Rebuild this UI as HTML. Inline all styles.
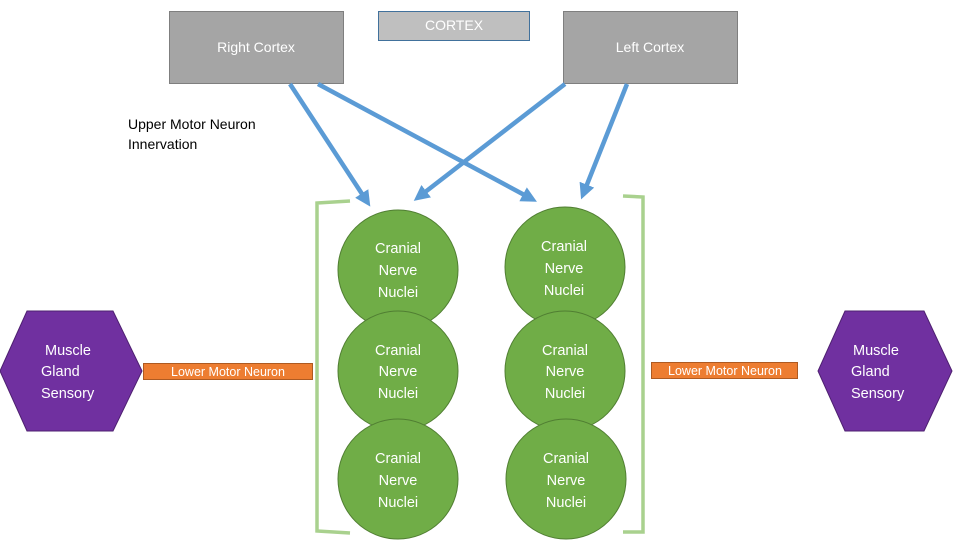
<!DOCTYPE html>
<html><head><meta charset="utf-8"><style>
body{margin:0;background:#fff;}
svg text{font-family:"Liberation Sans",sans-serif;}
</style></head><body>
<svg width="960" height="540" viewBox="0 0 960 540" xmlns="http://www.w3.org/2000/svg">
<defs><marker id="a" markerWidth="3.5" markerHeight="3.5" refX="1.75" refY="1.75" orient="auto" markerUnits="strokeWidth"><path d="M0,0 L3.5,1.75 L0,3.5 z" fill="#5b9bd5"/></marker></defs>
<rect x="169.5" y="11.5" width="174" height="72" fill="#a5a5a5" stroke="#7f7f7f"/>
<text x="256" y="52" font-size="14" fill="#fff" text-anchor="middle">Right Cortex</text>
<rect x="378.5" y="11.5" width="151" height="29" fill="#bfbfbf" stroke="#41719c"/>
<text x="454" y="30" font-size="14" fill="#fff" text-anchor="middle">CORTEX</text>
<rect x="563.5" y="11.5" width="174" height="72" fill="#a5a5a5" stroke="#7f7f7f"/>
<text x="650" y="52" font-size="14" fill="#fff" text-anchor="middle">Left Cortex</text>
<text x="128" y="129" font-size="14" fill="#000">Upper Motor Neuron</text>
<text x="128" y="149" font-size="14" fill="#000">Innervation</text>
<g stroke="#5b9bd5" stroke-width="4.5" fill="none">
<line x1="290" y1="84" x2="366" y2="200" marker-end="url(#a)"/>
<line x1="318" y1="84" x2="530" y2="198" marker-end="url(#a)"/>
<line x1="565" y1="84" x2="420" y2="196" marker-end="url(#a)"/>
<line x1="627" y1="84" x2="584" y2="192" marker-end="url(#a)"/>
</g>
<g stroke="#a9d18e" stroke-width="3.5" fill="none">
<path d="M350,201 L317,203 L317,531 L350,533"/>
<path d="M623,196 L643,197 L643,532 L623,532"/>
</g>
<g fill="#70ad47" stroke="#507e32" stroke-width="1">
<circle cx="398" cy="270" r="60"/><circle cx="565" cy="267" r="60"/>
<circle cx="398" cy="371" r="60"/><circle cx="565" cy="371" r="60"/>
<circle cx="398" cy="479" r="60"/><circle cx="566" cy="479" r="60"/>
</g>
<g font-size="14.5" fill="#fff" text-anchor="middle">
<text x="398" y="253">Cranial</text><text x="398" y="275">Nerve</text><text x="398" y="297">Nuclei</text>
<text x="564" y="251">Cranial</text><text x="564" y="273">Nerve</text><text x="564" y="295">Nuclei</text>
<text x="398" y="355">Cranial</text><text x="398" y="376">Nerve</text><text x="398" y="398">Nuclei</text>
<text x="565" y="355">Cranial</text><text x="565" y="376">Nerve</text><text x="565" y="398">Nuclei</text>
<text x="398" y="463">Cranial</text><text x="398" y="485">Nerve</text><text x="398" y="507">Nuclei</text>
<text x="566" y="463">Cranial</text><text x="566" y="485">Nerve</text><text x="566" y="507">Nuclei</text>
</g>
<polygon points="27,311 113,311 142,371 113,431 27,431 0,371" fill="#7030a0" stroke="#4e2070"/>
<polygon points="845,311 924,311 952,371 924,431 845,431 818,371" fill="#7030a0" stroke="#4e2070"/>
<g font-size="14.5" fill="#fff">
<text x="45" y="355">Muscle</text><text x="41" y="376">Gland</text><text x="41" y="398">Sensory</text>
<text x="853" y="355">Muscle</text><text x="851" y="376">Gland</text><text x="851" y="398">Sensory</text>
</g>
<rect x="143.5" y="363.5" width="169" height="16" fill="#ed7d31" stroke="#ae5a21"/>
<text x="228" y="376" font-size="12.5" fill="#fff" text-anchor="middle">Lower Motor Neuron</text>
<rect x="651.5" y="362.5" width="146" height="16" fill="#ed7d31" stroke="#ae5a21"/>
<text x="725" y="375" font-size="12.5" fill="#fff" text-anchor="middle">Lower Motor Neuron</text>
</svg>
</body></html>
